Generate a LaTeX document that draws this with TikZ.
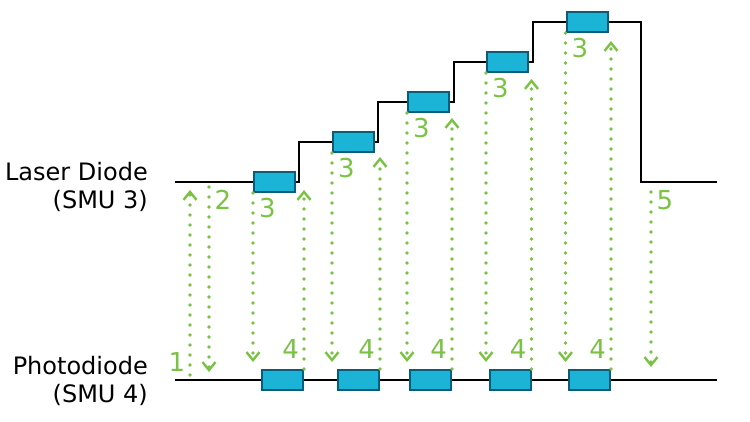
\documentclass[tikz,border=0pt]{standalone}
\usepackage{fontspec}
\setmainfont{DejaVu Sans}
\usetikzlibrary{arrows.meta,positioning}
\definecolor{probegreen}{RGB}{122,194,66}
\definecolor{pulsefill}{RGB}{28,180,214}
\definecolor{pulsedraw}{RGB}{10,92,120}
\tikzset{
  pulse/.style={
      rectangle,
      inner sep=0pt,
      minimum width=41pt,
      minimum height=20pt,
      line width=2pt,
      draw=pulsedraw,
      fill=pulsefill
  },
  probe/.style={
      probegreen,
      line width=3.6pt,
      line cap=round,
      dash pattern=on 0pt off 10pt,
      -{Straight Barb[length=8pt 0,width=13pt 0,line width=2.4pt 0]}
  },
  wave/.style={line width=1.8pt},
  stepno/.style={text=probegreen,font=\fontsize{26}{26}\selectfont,inner sep=0pt},
  channel/.style={font=\fontsize{24}{28}\selectfont,align=right,inner sep=0pt}
}

\begin{document}
\begin{tikzpicture}[x=1pt,y=-1pt]
    \useasboundingbox (0,0) rectangle (750,422);
    % channel names
    \node[channel,anchor=north east] (laser) at (148,162) {Laser Diode\\(SMU 3)};
    \node[channel,anchor=north east] (photo) at (148,356) {Photodiode\\(SMU 4)};
    % traces
    \coordinate (lstart) at (175,182);
    \coordinate (lstop) at (641,182);
    \coordinate (lend) at (717,182);
    \coordinate (pstart) at (175,380);
    \coordinate (pend) at (717,380);
    \draw[wave] (pstart) -- (pend);
    \foreach \i/\x/\y in {1/274.5/182,2/353.5/142,3/428.5/102,4/507.5/62,5/587/22}
      \node[pulse] (L\i) at (\x,\y) {};
    \foreach \i/\x in {1/282.5,2/358.5,3/430.5,4/510,5/589.5}
      \node[pulse] (P\i) at (\x,380) {};
    \draw[wave] (lstart) -- (L1.west)
      (L1.east) -- ++(3,0) |- (L2.west)
      (L2.east) -- ++(3,0) |- (L3.west)
      (L3.east) -- ++(4,0) |- (L4.west)
      (L4.east) -- ++(4,0) |- (L5.west)
      (L5.east) -| (lstop) -- (lend);
    % measurement steps
    \coordinate (low) at (0,362);
    \foreach \i/\t in {1/190,2/157,3/118,4/79,5/41} {
      \coordinate (tip\i) at (0,\t);
      \draw[probe] (L\i.south west) -- (L\i.south west |- low);
      \node[stepno,anchor=north west] (three\i) at ([xshift=6pt,yshift=-5pt]L\i.south west) {3};
      \draw[probe] (P\i.north east) -- (P\i.north east |- tip\i);
      \node[stepno,anchor=south east] (four\i) at ([xshift=-5pt,yshift=10pt]P\i.north east) {4};
    }
    \coordinate (upfrom) at (190,375);
    \coordinate (upto) at (190,190);
    \coordinate (downfrom) at (209,187);
    \coordinate (downto) at (209,372);
    \coordinate (offfrom) at (651,192);
    \coordinate (offto) at (651,367);
    \draw[probe] (upfrom) -- (upto);
    \draw[probe] (downfrom) -- (downto);
    \draw[probe] (offfrom) -- (offto);
    \node[stepno] (one) at (177,362) {1};
    \node[stepno] (two) at (223,200) {2};
    \node[stepno] (five) at (665,200) {5};
\end{tikzpicture}
\end{document}
